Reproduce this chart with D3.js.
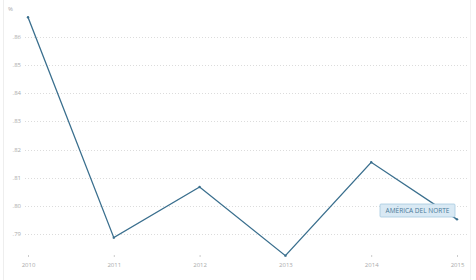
<!DOCTYPE html>
<html>
<head>
<meta charset="utf-8">
<script src="https://cdn.jsdelivr.net/npm/d3@7"></script>
<style>
  body { margin: 0; background: #fff; }
  #chart { width: 476px; height: 280px; }
</style>
</head>
<body>
<div id="chart"></div>
<script>
// Values
const years  = ["2010", "2011", "2012", "2013", "2014", "2015"];
const values = [0.867, 0.7887, 0.8067, 0.7823, 0.8155, 0.7952];
const yTicks = [0.79, 0.80, 0.81, 0.82, 0.83, 0.84, 0.85, 0.86];
const seriesName = "AMÉRICA DEL NORTE";

const W = 476, H = 280;

const svg = d3.select("#chart").append("svg")
  .attr("width", W).attr("height", H)
  .style("font-family", "'Open Sans', sans-serif");

// faint frame lines at left and right edges
svg.append("line").attr("x1", 3.5).attr("x2", 3.5).attr("y1", 0).attr("y2", H)
  .attr("stroke", "#eeeeee");
svg.append("line").attr("x1", 470.5).attr("x2", 470.5).attr("y1", 0).attr("y2", H)
  .attr("stroke", "#f2f2f2");

const x = d3.scalePoint().domain(years).range([28, 457]);
const y = d3.scaleLinear().domain([0.79, 0.86]).range([234, 37]);

// dotted horizontal gridlines
svg.append("g")
  .selectAll("line").data(yTicks).join("line")
    .attr("x1", 25).attr("x2", 468)
    .attr("y1", d => Math.round(y(d)) + 0.5).attr("y2", d => Math.round(y(d)) + 0.5)
    .attr("stroke", "#dcdcdc").attr("stroke-dasharray", "1,2");

// y labels
svg.append("g")
  .selectAll("text").data(yTicks).join("text")
    .attr("x", 21).attr("y", d => y(d) + 2)
    .attr("text-anchor", "end")
    .attr("font-size", 6).attr("fill", "#aaa")
    .text(d => d3.format(".2f")(d).replace(/^0/, ""));

svg.append("text").attr("x", 8).attr("y", 11)
  .attr("font-size", 6).attr("fill", "#aaa").text("%");

// x axis labels + small ticks
svg.append("g").attr("transform", "translate(0,255)")
  .call(d3.axisBottom(x).tickSize(2).tickPadding(6))
  .call(g => g.select(".domain").remove())
  .call(g => g.selectAll(".tick line").attr("stroke", "#ccc"))
  .call(g => g.selectAll("text").attr("fill", "#aaa").attr("font-size", 6)
    .style("font-family", "'Open Sans', sans-serif"));

// the series line
const pts = years.map((yr, i) => ({ yr, v: values[i] }));
svg.append("path").datum(pts)
  .attr("fill", "none").attr("stroke", "#3a6f8e").attr("stroke-width", 1.3)
  .attr("d", d3.line().x(d => x(d.yr)).y(d => y(d.v)));

svg.append("g").selectAll("circle").data(pts).join("circle")
  .attr("cx", d => x(d.yr)).attr("cy", d => y(d.v)).attr("r", 1.2)
  .attr("fill", "#3a6f8e");

// series label box
const lbl = svg.append("g").attr("transform", "translate(380,204)");
lbl.append("rect").attr("width", 75).attr("height", 13).attr("rx", 1)
  .attr("fill", "#d9e9f4").attr("stroke", "#a6c9df").attr("stroke-width", 0.8);
lbl.append("text").attr("x", 37.5).attr("y", 9.3).attr("text-anchor", "middle")
  .attr("font-size", 6.5).attr("fill", "#4a7a99").text(seriesName);
</script>
</body>
</html>
